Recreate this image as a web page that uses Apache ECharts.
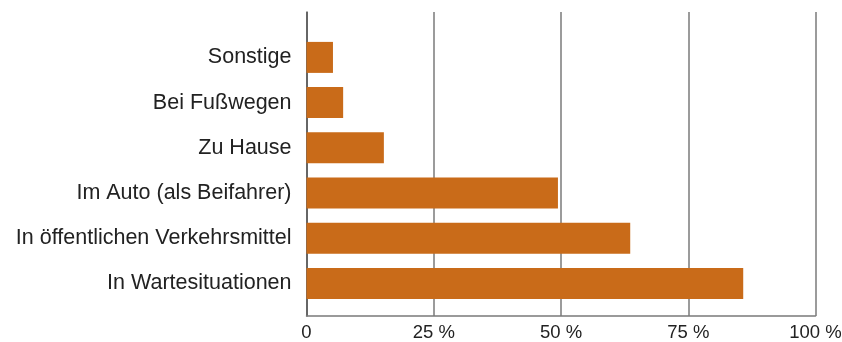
<!DOCTYPE html>
<html>
<head>
<meta charset="utf-8">
<script src="https://cdn.jsdelivr.net/npm/echarts@6/dist/echarts.min.js"></script>
<style>
  html, body { margin: 0; padding: 0; background: #fff; }
  #chart { width: 842px; height: 342px; }
</style>
</head>
<body>
<div id="chart"></div>
<script>
// Kategorien von oben nach unten
const categories = [
  'Sonstige',
  'Bei Fußwegen',
  'Zu Hause',
  'Im Auto (als Beifahrer)',
  'In öffentlichen Verkehrsmittel',
  'In Wartesituationen'
];
const values = [5.2, 7.2, 15.2, 49.4, 63.6, 85.8];
const tickValues = [0, 25, 50, 75, 100];

const chart = echarts.init(document.getElementById('chart'));
const font = 'Liberation Sans, Arial, sans-serif';

const option = {
  animation: false,
  grid: [
    // Raster fuer die Gitterlinien
    { left: 306.5, right: 26.5, top: 12, bottom: 26, outerBoundsMode: 'none', containLabel: false },
    // Balken
    { left: 306.5, right: 26.5, top: 34.8, bottom: 36, outerBoundsMode: 'none', containLabel: false }
  ],
  xAxis: [
    {
      gridIndex: 0,
      type: 'value',
      min: 0,
      max: 100,
      interval: 25,
      axisLine: { show: true, lineStyle: { color: '#7a7a7a', width: 1.5 } },
      axisTick: { show: false },
      splitLine: { show: true, lineStyle: { color: '#7a7a7a', width: 1.5 } },
      axisLabel: {
        color: '#222',
        fontFamily: font,
        fontSize: 18.5,
        margin: 7,
        formatter: (v) => (tickValues.includes(v) && v !== 0 ? v + ' %' : String(v))
      }
    },
    {
      gridIndex: 1,
      type: 'value',
      min: 0,
      max: 100,
      show: false
    }
  ],
  yAxis: [
    {
      gridIndex: 0,
      type: 'value',
      min: 0,
      max: 1,
      show: true,
      axisLine: { show: true, lineStyle: { color: '#555', width: 1.5 } },
      axisTick: { show: false },
      axisLabel: { show: false },
      splitLine: { show: false }
    },
    {
      gridIndex: 1,
      type: 'category',
      data: categories,
      inverse: true,
      axisLine: { show: false },
      axisTick: { show: false },
      axisLabel: {
        color: '#222',
        fontFamily: font,
        fontSize: 21.5,
        margin: 15
      }
    }
  ],
  series: [
    {
      type: 'bar',
      xAxisIndex: 1,
      yAxisIndex: 1,
      data: values,
      barWidth: 31,
      itemStyle: { color: '#C96B19' }
    }
  ]
};

chart.setOption(option);
</script>
</body>
</html>
